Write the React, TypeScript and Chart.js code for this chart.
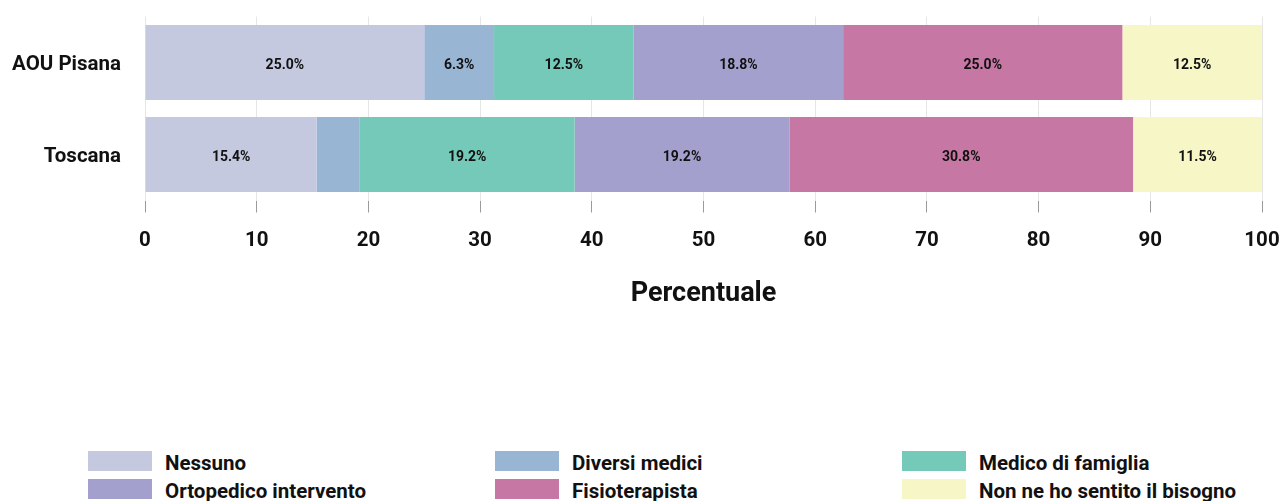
import React, { useEffect, useRef } from "react";
import { Chart, registerables } from "chart.js";

Chart.register(...registerables);

const categories = ["AOU Pisana", "Toscana"];
const seriesNames = [
  "Nessuno",
  "Diversi medici",
  "Medico di famiglia",
  "Ortopedico intervento",
  "Fisioterapista",
  "Non ne ho sentito il bisogno",
];
const nessuno = [25.0, 15.38];
const diversiMedici = [6.25, 3.85];
const medicoFamiglia = [12.5, 19.23];
const ortopedico = [18.75, 19.23];
const fisioterapista = [25.0, 30.77];
const nonBisogno = [12.5, 11.54];
const seriesColors = ["#c5c9df", "#99b5d4", "#74c9b8", "#a3a0cd", "#c677a3", "#f7f6c6"];
const xTicks = [0, 10, 20, 30, 40, 50, 60, 70, 80, 90, 100];
const xTitle = "Percentuale";

const FONT = "Roboto, 'Noto Sans', sans-serif";

const CANVAS_H = 302;
const CANVAS_W = 1273;

if (typeof document !== "undefined") {
  document.body.style.marginRight = "0px";
  document.body.style.marginBottom = "0px";
}

const valueLabels = {
  id: "valueLabels",
  afterDatasetsDraw(chart: any) {
    const ctx = chart.ctx;
    ctx.save();
    ctx.font = `bold 14px ${FONT}`;
    ctx.fillStyle = "#111111";
    ctx.textAlign = "center";
    ctx.textBaseline = "middle";
    chart.data.datasets.forEach((ds: any, di: number) => {
      const meta = chart.getDatasetMeta(di);
      meta.data.forEach((el: any, i: number) => {
        const v = ds.data[i];
        if (v < 5) return;
        const cx = (el.x + el.base) / 2;
        ctx.fillText(v.toFixed(1) + "%", cx, el.y + 2.5);
      });
    });
    ctx.restore();
  },
};

export default function App() {
  const ref = useRef<HTMLCanvasElement | null>(null);
  useEffect(() => {
    if (!ref.current) return;
    Chart.defaults.font.family = FONT;
    const allSeries = [nessuno, diversiMedici, medicoFamiglia, ortopedico, fisioterapista, nonBisogno];
    const chart = new Chart(ref.current, {
      type: "bar",
      data: {
        labels: categories,
        datasets: allSeries.map((d, i) => ({
          label: seriesNames[i],
          data: d,
          backgroundColor: seriesColors[i],
          borderWidth: 0,
          categoryPercentage: 1,
          barPercentage: 0.815,
        })),
      },
      options: {
        indexAxis: "y",
        animation: false,
        responsive: true,
        maintainAspectRatio: false,
        layout: { padding: { top: 8.5, left: 0, right: 19, bottom: 0 } },
        plugins: {
          legend: { display: false },
          tooltip: { enabled: false },
        },
        scales: {
          x: {
            stacked: true,
            min: 0,
            max: 100,
            afterBuildTicks: (scale: any) => {
              scale.ticks = xTicks.map((v) => ({ value: v }));
            },
            afterFit: (scale: any) => {
              scale.height = CANVAS_H - 192.5;
              scale.paddingLeft = 0;
              scale.paddingRight = 0;
            },
            grid: {
              color: "#e6e6e6",
              lineWidth: 1,
              tickColor: "#9a9a9a",
              tickLength: 12,
              drawTicks: true,
            },
            border: { display: false },
            ticks: {
              color: "#111111",
              padding: 16,
              font: { size: 20.5, weight: "bold" },
              maxRotation: 0,
            },
            title: {
              display: true,
              text: xTitle,
              color: "#111111",
              font: { size: 27, weight: "bold" },
              padding: { top: 10, bottom: 0 },
            },
          },
          y: {
            stacked: true,
            grid: { display: false, drawTicks: false },
            border: { display: false },
            afterFit: (scale: any) => {
              scale.width = 137;
              scale.paddingTop = 0;
              scale.paddingBottom = 0;
            },
            ticks: {
              color: "#111111",
              padding: 24,
              labelOffset: 2.5,
              font: { size: 20.5, weight: "bold" },
            },
          },
        },
      },
      plugins: [valueLabels],
    } as any);
    return () => chart.destroy();
  }, []);

  const legendItems = [0, 1, 2, 3, 4, 5];
  return (
    <div
      style={{
        position: "relative",
        width: CANVAS_W,
        height: 493,
        fontFamily: FONT,
      }}
    >
      <div style={{ position: "absolute", left: 0, top: 0, width: CANVAS_W, height: CANVAS_H }}>
        <canvas ref={ref} />
      </div>
      <div
        style={{
          position: "absolute",
          left: 80,
          top: 443,
          display: "grid",
          gridTemplateColumns: "407px 407px 370px",
          rowGap: 8,
        }}
      >
        {legendItems.map((i) => (
          <div key={i} style={{ display: "flex", alignItems: "flex-start", height: 20 }}>
            <span
              style={{
                display: "inline-block",
                width: 64,
                height: 20,
                background: seriesColors[i],
                marginRight: 13,
                flex: "none",
              }}
            />
            <span
              style={{
                fontWeight: "bold",
                fontSize: 20.5,
                color: "#111111",
                lineHeight: "20px",
                marginTop: 2,
                whiteSpace: "nowrap",
              }}
            >
              {seriesNames[i]}
            </span>
          </div>
        ))}
      </div>
    </div>
  );
}
